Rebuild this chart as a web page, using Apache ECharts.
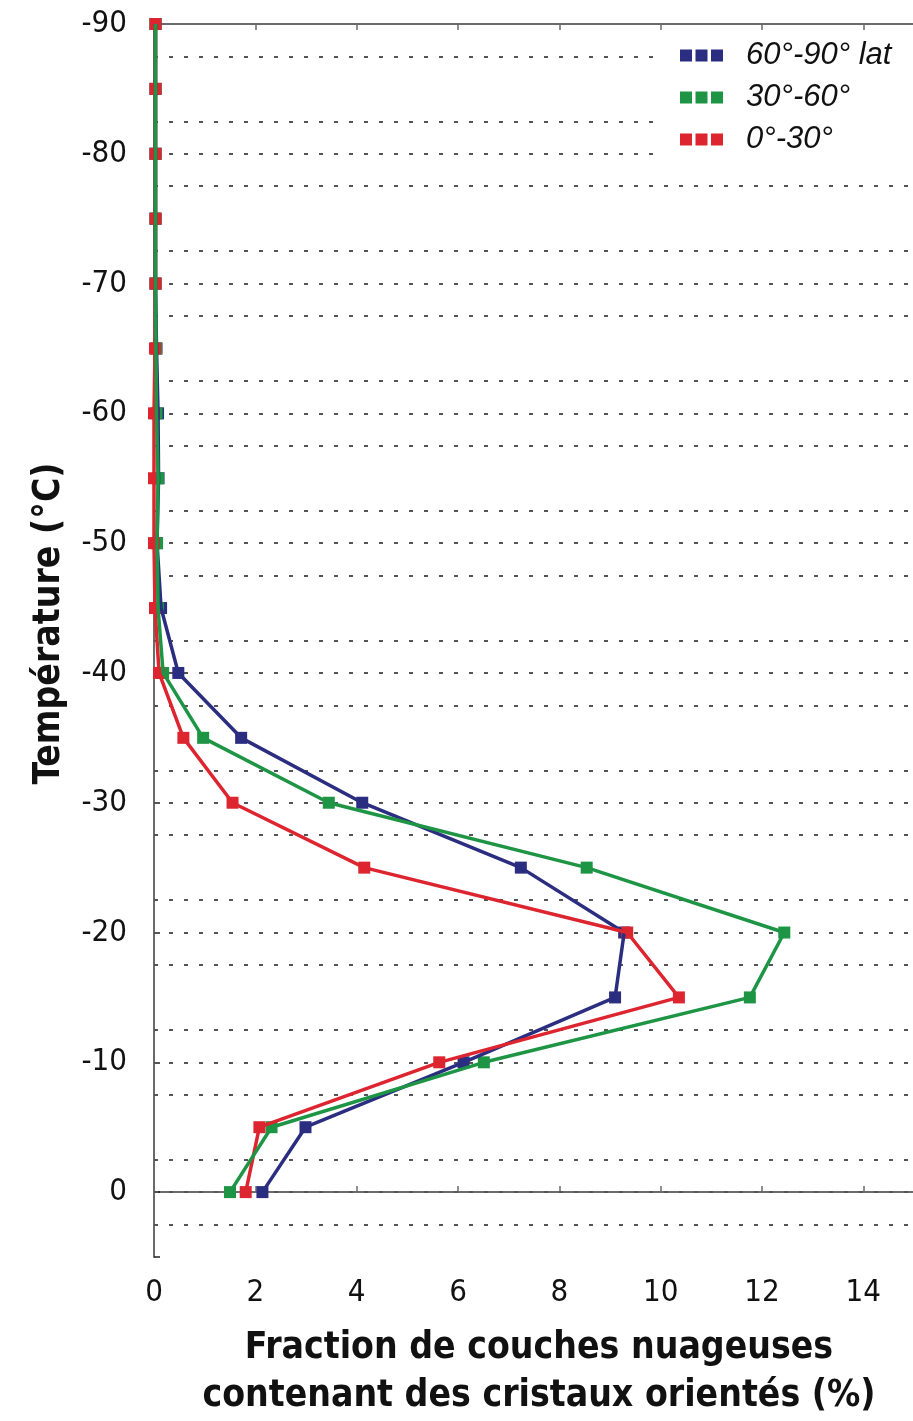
<!DOCTYPE html>
<html>
<head>
<meta charset="utf-8">
<script src="https://cdn.jsdelivr.net/npm/echarts@6/dist/echarts.min.js"></script>
<style>
  html, body { margin: 0; padding: 0; background: #ffffff; }
  #chart { width: 913px; height: 1421px; }
</style>
</head>
<body>
<div id="chart"></div>
<script>
// Temperature levels (°C), one sample every 5 degrees
const temperatures = [-90, -85, -80, -75, -70, -65, -60, -55, -50, -45, -40, -35, -30, -25, -20, -15, -10, -5, 0];

// Fraction of cloud layers containing oriented crystals (%), per latitude band
const lat60_90 = [0.03, 0.03, 0.03, 0.03, 0.03, 0.05, 0.08, 0.09, 0.06, 0.14, 0.48, 1.72, 4.11, 7.24, 9.28, 9.10, 6.11, 2.99, 2.14];
const lat30_60 = [0.03, 0.03, 0.03, 0.03, 0.03, 0.04, 0.05, 0.08, 0.06, 0.08, 0.18, 0.97, 3.45, 8.54, 12.44, 11.76, 6.51, 2.32, 1.50];
const lat0_30  = [0.03, 0.03, 0.03, 0.03, 0.03, 0.02, 0.00, 0.00, 0.00, 0.02, 0.10, 0.58, 1.55, 4.15, 9.34, 10.36, 5.63, 2.08, 1.81];

const seriesNames = ['60°-90° lat', '30°-60°', '0°-30°'];

// Dotted horizontal reference lines (°C)
const gridTemps = [-87.5, -82.5, -80, -77.5, -72.5, -70, -67.5, -62.5, -60, -57.5, -52.5, -50, -47.5,
                   -42.5, -40, -37.5, -32.5, -30, -27.5, -22.5, -20, -17.5, -12.5, -10, -7.5, -2.5, 0, 2.5];

const COLORS = { blue: '#2a2d80', green: '#1e9545', red: '#dd2530' };
const narrow = '"Liberation Sans Narrow", "DejaVu Sans Condensed", "Liberation Sans", sans-serif';

const toPairs = vals => vals.map((v, i) => [v, temperatures[i]]);

const chart = echarts.init(document.getElementById('chart'), null, { renderer: 'canvas' });

// Each band is drawn as square markers plus a connecting polyline laid over them
const markerSeries = (name, color, vals, z) => ({
  name: name,
  type: 'scatter',
  data: toPairs(vals),
  symbol: 'rect',
  symbolSize: 12,
  itemStyle: { color: color, opacity: 1 },
  z: z,
  animation: false
});

const lineSeries = (name, color, vals, z) => ({
  name: name,
  type: 'line',
  data: toPairs(vals),
  symbol: 'none',
  lineStyle: { color: color, width: 3.5 },
  itemStyle: { color: color },
  z: z,
  animation: false
});

const option = {
  animation: false,
  backgroundColor: '#ffffff',
  grid: { left: 154, top: 24, width: 760, height: 1233, containLabel: false, outerBoundsMode: 'none' },
  legend: {
    data: seriesNames,
    orient: 'vertical',
    left: 658,
    top: 32,
    z: 20,
    padding: [8, 22, 2, 22],
    backgroundColor: '#ffffff',
    itemWidth: 43,
    itemHeight: 12,
    itemGap: 11,
    icon: 'path://M0,0h12v12h-12z M15.5,0h12v12h-12z M31,0h12v12h-12z',
    textStyle: {
      fontFamily: '"Liberation Sans", "DejaVu Sans", sans-serif',
      fontStyle: 'italic',
      fontSize: 31,
      lineHeight: 28,
      color: '#111111',
      padding: [0, 0, 0, 18]
    },
    selectedMode: false
  },
  xAxis: [
    {
      type: 'value',
      position: 'bottom',
      min: 0, max: 15, interval: 2,
      name: 'Fraction de couches nuageuses\ncontenant des cristaux orientés (%)',
      nameLocation: 'middle',
      nameGap: 67,
      nameTextStyle: {
        fontFamily: narrow, fontWeight: 'bold', fontSize: 37, lineHeight: 48, color: '#111111',
        verticalAlign: 'top', padding: [0, 0, 0, 10]
      },
      axisLine: { show: true, lineStyle: { color: '#6b6b6b', width: 2 } },
      axisTick: { show: true, inside: true, length: 6, lineStyle: { color: '#6b6b6b', width: 1.5 } },
      axisLabel: {
        fontFamily: narrow, fontSize: 31, color: '#111111', margin: 20,
        formatter: v => (v % 2 === 0 ? String(v) : '')
      },
      splitLine: { show: false }
    },
    {
      type: 'value',
      position: 'top',
      min: 0, max: 15, interval: 2,
      axisLine: { show: true, lineStyle: { color: '#6b6b6b', width: 2 } },
      axisTick: { show: true, inside: true, length: 6, lineStyle: { color: '#6b6b6b', width: 1.5 } },
      axisLabel: { show: false },
      splitLine: { show: false }
    }
  ],
  yAxis: {
    type: 'value',
    inverse: true,
    min: -90, max: 5, interval: 10,
    name: 'Température (°C)',
    nameLocation: 'middle',
    nameGap: 86,
    nameTextStyle: {
      fontFamily: narrow, fontWeight: 'bold', fontSize: 37, color: '#111111',
      padding: [0, 0, 0, 34]
    },
    axisLine: { show: true, lineStyle: { color: '#6b6b6b', width: 2 } },
    axisTick: { show: true, inside: true, length: 6, lineStyle: { color: '#222222', width: 1.5 } },
    axisLabel: {
      fontFamily: narrow, fontSize: 31, color: '#111111', margin: 27,
      formatter: v => (v % 10 === 0 ? String(v) : '')
    },
    splitLine: { show: false }
  },
  series: [
    markerSeries(seriesNames[0], COLORS.blue, lat60_90, 3),
    markerSeries(seriesNames[1], COLORS.green, lat30_60, 4),
    markerSeries(seriesNames[2], COLORS.red, lat0_30, 5),
    lineSeries(seriesNames[0], COLORS.blue, lat60_90, 6),
    lineSeries(seriesNames[2], COLORS.red, lat0_30, 7),
    lineSeries(seriesNames[1], COLORS.green, lat30_60, 8),
    {
      name: 'grid',
      type: 'line',
      data: [],
      silent: true,
      z: 1,
      markLine: {
        silent: true,
        z: 1,
        symbol: ['none', 'none'],
        label: { show: false },
        lineStyle: { color: '#555555', width: 2, type: [4, 11] },
        data: gridTemps.map(t => ({ yAxis: t }))
      }
    }
  ]
};

chart.setOption(option);
</script>
</body>
</html>
